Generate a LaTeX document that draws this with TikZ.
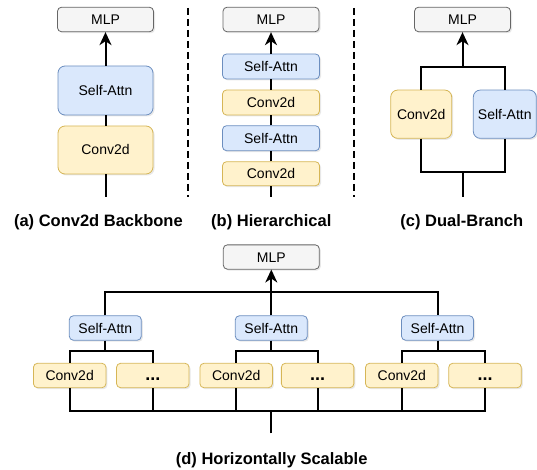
\documentclass[tikz,border=0pt]{standalone}
\usepackage{fontspec}
\setmainfont{Liberation Sans}
\usepackage{tikz}
\usetikzlibrary{arrows.meta}
\usetikzlibrary{shadows}
\definecolor{attnfill}{HTML}{DAE8FC}
\definecolor{attndraw}{HTML}{6C8EBF}
\definecolor{convfill}{HTML}{FFF2CC}
\definecolor{convdraw}{HTML}{D6B656}
\definecolor{mlpfill}{HTML}{F5F5F5}
\definecolor{mlpdraw}{HTML}{666666}
\tikzset{box/.style={draw, rounded corners=4pt, line width=0.8pt, inner sep=0pt,
   text height=10pt, text depth=0pt, font=\fontsize{14}{16}\selectfont,
   drop shadow={shadow xshift=1.5pt, shadow yshift=-1.5pt, opacity=0.18}},
 mlp/.style={box, fill=mlpfill, draw=mlpdraw, minimum width=96pt, minimum height=24.5pt},
 attn/.style={box, fill=attnfill, draw=attndraw},
 conv/.style={box, fill=convfill, draw=convdraw},
 big/.style={rounded corners=7pt},
 slim/.style={minimum width=97pt, minimum height=25pt},
 tiny/.style={minimum width=72.5pt, minimum height=24.4pt},
 dots/.style={font=\fontsize{18}{18}\selectfont\bfseries},
 wire/.style={line width=2pt},
 feed/.style={wire, -{Stealth[length=13pt,width=12pt,inset=4pt]}},
 divider/.style={line width=2pt, dash pattern=on 7pt off 4pt},
 captxt/.style={font=\fontsize{16.5}{18}\selectfont\bfseries, anchor=base},
}

\begin{document}
\begin{tikzpicture}[x=1pt,y=-1pt]
    \useasboundingbox (0,0) rectangle (537,470);
    % (a)
    \node[mlp] (mlpA) at (105.5,19.5) {MLP};
    \node[attn, big, minimum width=95pt, minimum height=49pt] (attnA) at (105.5,90.5) {Self-Attn};
    \node[conv, big, minimum width=95pt, minimum height=48pt] (convA) at (105.5,150) {Conv2d};
    \coordinate (inA) at (105.5,197);
    \draw[wire] (inA) -- (convA);
    \draw[wire] (convA) -- (attnA);
    \draw[feed] (attnA) -- (mlpA);
    \node[captxt] (capA) at (98.4,226) {(a) Conv2d Backbone};

    \coordinate (sepA1) at (188,8);
    \coordinate (sepA2) at (188,197);
    \draw[divider] (sepA1) -- (sepA2);

    % (b)
    \node[mlp] (mlpB) at (271,19.5) {MLP};
    \node[attn, slim] (attnB1) at (271,66.5) {Self-Attn};
    \node[conv, slim] (convB1) at (271,102.5) {Conv2d};
    \node[attn, slim] (attnB2) at (271,138.2) {Self-Attn};
    \node[conv, slim, minimum height=24pt] (convB2) at (271,173.7) {Conv2d};
    \coordinate (inB) at (271,197);
    \draw[wire] (inB) -- (convB2);
    \draw[wire] (convB2) -- (attnB2);
    \draw[wire] (attnB2) -- (convB1);
    \draw[wire] (convB1) -- (attnB1);
    \draw[feed] (attnB1) -- (mlpB);
    \node[captxt] (capB) at (271.3,226) {(b) Hierarchical};

    \coordinate (sepB1) at (354.3,8);
    \coordinate (sepB2) at (354.3,197);
    \draw[divider] (sepB1) -- (sepB2);

    % (c)
    \node[mlp] (mlpC) at (462.5,19.5) {MLP};
    \node[conv, big, minimum width=61pt, minimum height=48.3pt] (convC) at (421.2,114.2) {Conv2d};
    \node[attn, big, minimum width=63pt, minimum height=48.3pt] (attnC) at (504.8,114.2) {Self-Attn};
    \coordinate (topC) at (462.5,66.7);
    \coordinate (botC) at (462.5,172.3);
    \coordinate (inC) at (462.5,197);
    \draw[wire] (convC.north) -- (convC.north |- topC) -- (attnC.north |- topC) -- (attnC.north);
    \draw[wire] (convC.south) -- (convC.south |- botC) -- (attnC.south |- botC) -- (attnC.south);
    \draw[wire] (inC) -- (botC);
    \draw[feed] (topC) -- (mlpC);
    \node[captxt] (capC) at (461.8,226) {(c) Dual-Branch};

    % (d)
    \node[mlp, minimum height=24.3pt] (mlpD) at (271.3,257) {MLP};
    \node[attn, tiny, minimum width=72pt] (attnD1) at (105.3,328) {Self-Attn};
    \node[attn, tiny, minimum width=72pt] (attnD2) at (271.3,328) {Self-Attn};
    \node[attn, tiny, minimum width=72pt] (attnD3) at (437.5,328) {Self-Attn};
    \node[conv, tiny] (convD1) at (69.7,375.5) {Conv2d};
    \node[conv, tiny, dots] (dotsD1) at (152.8,375.5) {...};
    \node[conv, tiny] (convD2) at (236.2,375.5) {Conv2d};
    \node[conv, tiny, dots] (dotsD2) at (317.6,375.5) {...};
    \node[conv, tiny] (convD3) at (401.8,375.5) {Conv2d};
    \node[conv, tiny, dots] (dotsD3) at (485,375.5) {...};
    \coordinate (topD) at (271.3,291.7);
    \coordinate (botD) at (271.3,411);
    \coordinate (inD) at (271.3,433.3);
    \draw[wire] (attnD1.north) -- (attnD1.north |- topD) -- (attnD3.north |- topD) -- (attnD3.north);
    \draw[wire] (attnD2) -- (topD);
    \draw[feed] (topD) -- (mlpD);
    \draw[wire] (attnD1.south) -- (attnD1.south |- 0,350.7);
    \draw[wire] (convD1.north) -- (convD1.north |- 0,350.7) -- (dotsD1.north |- 0,350.7) -- (dotsD1.north);
    \draw[wire] (attnD2.south) -- (attnD2.south |- 0,350.7);
    \draw[wire] (convD2.north) -- (convD2.north |- 0,350.7) -- (dotsD2.north |- 0,350.7) -- (dotsD2.north);
    \draw[wire] (attnD3.south) -- (attnD3.south |- 0,350.7);
    \draw[wire] (convD3.north) -- (convD3.north |- 0,350.7) -- (dotsD3.north |- 0,350.7) -- (dotsD3.north);
    \draw[wire] (convD1.south) -- (convD1.south |- botD) -- (dotsD3.south |- botD) -- (dotsD3.south);
    \draw[wire] (dotsD1.south) -- (dotsD1.south |- botD);
    \draw[wire] (convD2.south) -- (convD2.south |- botD);
    \draw[wire] (dotsD2.south) -- (dotsD2.south |- botD);
    \draw[wire] (convD3.south) -- (convD3.south |- botD);
    \draw[wire] (inD) -- (botD);
    \node[captxt] (capD) at (271.7,464) {(d) Horizontally Scalable};
\end{tikzpicture}
\end{document}
